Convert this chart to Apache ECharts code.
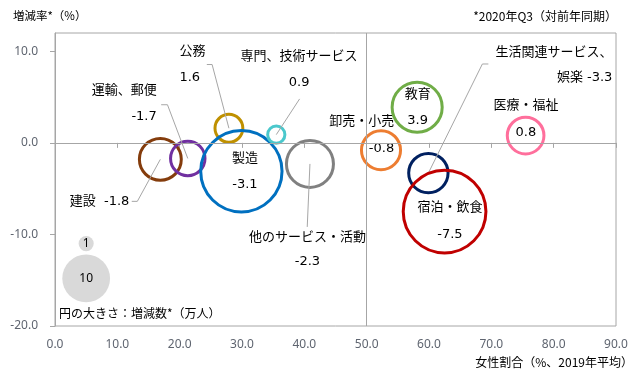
<!DOCTYPE html>
<html><head><meta charset="utf-8">
<script src="https://cdn.jsdelivr.net/npm/echarts@6/dist/echarts.min.js"></script>
<style>html,body{margin:0;padding:0;background:#fff}#c{width:643px;height:378px}</style>
</head><body><div id="c"></div>
<script>
// ---- data ----
const industries = ['建設','運輸、郵便','公務','製造','専門、技術サービス','他のサービス・活動','卸売・小売','教育','医療・福祉','生活関連サービス、娯楽','宿泊・飲食'];
const femaleShare = [16.9, 21.3, 27.9, 29.9, 35.5, 40.9, 52.3, 58.1, 75.5, 59.9, 62.5];   // x (%, 2019 avg)
const changeRate  = [-1.8, -1.7, 1.6, -3.1, 0.9, -2.3, -0.8, 3.9, 0.8, -3.3, -7.5];       // y (%, 2020Q3 yoy)
const changeCount = [7.7, 5.2, 3.4, 29, 1.3, 9.7, 6.7, 11, 5.9, 6.8, 30];                 // bubble size (万人)
const legendSizes = [1, 10];
const legendX = [5, 5];
const legendY = [-11, -14.8];
const xTickValues = [0, 10, 20, 30, 40, 50, 60, 70, 80, 90];
const yTickValues = [-20, -10, 0, 10];

// ---- styles / layout ----
const R_UNIT = 7.55;
const colors = ['#843c0c','#7030a0','#bf9000','#0070c0','#4bc8cc','#808080','#ed7d31','#70ad47','#ff6f9c','#002060','#c00000'];
const labelLayouts = [
  {fmt:(n,v)=>n+'  '+v, dx:-31, dy:42.2, align:'right', lh:26, leader:[[-28.6,42],[-23,42],[0,0]]},
  {fmt:(n,v)=>n+'\n'+v, dx:-31, dy:-55, align:'right', lh:26, leader:[[-26.6,-53.7],[-20.3,-53.7],[0,0]]},
  {fmt:(n,v)=>n+'\n'+v, dx:-49.5, dy:-64, align:'left', lh:26, leader:[[-22.1,-63.7],[-16.8,-63.7],[0,0]]},
  {fmt:(n,v)=>n+'\n'+v, dx:3.5, dy:0, align:'center', lh:26},
  {fmt:(n,v)=>n+'\n'+v, dx:22.8, dy:-65.2, align:'center', lh:26, leader:[[23.3,-35.7],[0,0]]},
  {fmt:(n,v)=>n+'\n'+v, dx:-2.5, dy:85.6, align:'center', lh:24, leader:[[-2.7,63],[0,0]]},
  {fmt:(n,v)=>n+'\n'+v, dx:13.2, dy:-15.5, align:'right', lh:27},
  {fmt:(n,v)=>n+'\n'+v, dx:0.5, dy:0.3, align:'center', lh:26},
  {fmt:(n,v)=>n+'\n'+v, dx:0.3, dy:-16.4, align:'center', lh:27},
  {fmt:(n,v)=>n.replace('、','、\n')+' '+v, dx:184, dy:-108.3, align:'right', lh:25, leader:[[60,-109.1],[54,-109.1],[0,0]]},
  {fmt:(n,v)=>n+'\n'+v, dx:5.3, dy:9.9, align:'center', lh:27}
];
const LABEL_FONT = '13px "DejaVu Sans", "Noto Sans CJK JP", sans-serif';
const AXIS_COLOR = '#a6a6a6';
const TICK_LABEL_COLOR = '#5f6570';

const bubbleData = industries.map((n, i) => [femaleShare[i], changeRate[i], changeCount[i]]);
const legendData = legendSizes.map((s, i) => [legendX[i], legendY[i], s]);

function renderBubble(params, api) {
  const i = params.dataIndex;
  const p = api.coord([api.value(0), api.value(1)]);
  const r = R_UNIT * Math.sqrt(api.value(2));
  const L = labelLayouts[i];
  const children = [{
    type: 'circle', shape: {cx: p[0], cy: p[1], r: r},
    style: {fill: 'none', stroke: colors[i], lineWidth: 3}
  }];
  if (L.leader) {
    children.push({
      type: 'polyline',
      shape: {points: L.leader.map(q => [p[0] + q[0], p[1] + q[1]])},
      style: {fill: 'none', stroke: AXIS_COLOR, lineWidth: 1}
    });
  }
  children.push({
    type: 'text', x: p[0] + L.dx, y: p[1] + L.dy,
    style: {
      text: L.fmt(industries[i], changeRate[i].toFixed(1)),
      align: L.align, verticalAlign: 'middle',
      font: LABEL_FONT, lineHeight: L.lh, fill: '#000'
    }
  });
  return {type: 'group', children};
}

const chart = echarts.init(document.getElementById('c'), null, {renderer: 'canvas'});
chart.setOption({
  animation: false,
  backgroundColor: '#fff',
  grid: {left: 55, top: 33, right: 27, bottom: 52, show: true, borderColor: AXIS_COLOR, borderWidth: 1},
  xAxis: {
    type: 'value', min: 0, max: 90, interval: 10,
    axisLine: {show: true, lineStyle: {color: AXIS_COLOR}},
    axisTick: {show: true, length: 5, lineStyle: {color: AXIS_COLOR}, customValues: xTickValues},
    axisLabel: {color: TICK_LABEL_COLOR, fontFamily: '"Noto Sans", sans-serif', fontSize: 12, margin: 13,
      customValues: xTickValues, formatter: v => v.toFixed(1)},
    splitLine: {show: false}
  },
  yAxis: {
    type: 'value', min: -20, max: 12, interval: 10,
    axisLine: {show: true, onZero: false, lineStyle: {color: AXIS_COLOR}},
    axisTick: {show: true, length: 5, lineStyle: {color: AXIS_COLOR}, customValues: yTickValues},
    axisLabel: {color: TICK_LABEL_COLOR, fontFamily: '"Noto Sans", sans-serif', fontSize: 12, margin: 17,
      customValues: yTickValues, formatter: v => v.toFixed(1)},
    splitLine: {show: false}
  },
  graphic: [
    {type: 'text', left: 13, top: 10, style: {text: '増減率*（%）', font: '11.5px "Noto Sans CJK JP", sans-serif', fill: '#000'}},
    {type: 'text', right: 26, top: 10, style: {text: '*2020年Q3（対前年同期）', font: '12px "Noto Sans CJK JP", sans-serif', fill: '#000'}},
    {type: 'text', right: 10, top: 356, style: {text: '女性割合（%、2019年平均）', font: '12px "Noto Sans CJK JP", sans-serif', fill: '#000'}},
    {type: 'text', left: 59, top: 307, style: {text: '円の大きさ：増減数*（万人）', font: '12px "Noto Sans CJK JP", sans-serif', fill: '#000'}}
  ],
  series: [
    {
      type: 'scatter', z: 2, silent: true,
      data: legendData,
      symbolSize: v => 2 * R_UNIT * Math.sqrt(v[2]),
      itemStyle: {color: '#d9d9d9', opacity: 1},
      label: {show: true, position: 'inside', formatter: p => String(p.value[2]),
        color: '#000', fontFamily: '"Noto Sans", sans-serif', fontSize: 12},
      markLine: {
        silent: true, symbol: ['none', 'none'],
        lineStyle: {color: AXIS_COLOR, type: 'solid', width: 1},
        label: {show: false},
        data: [{xAxis: 50}, {yAxis: 0}]
      }
    },
    {
      type: 'custom', z: 3, silent: true,
      renderItem: renderBubble,
      encode: {x: 0, y: 1},
      data: bubbleData
    }
  ]
});
</script></body></html>
